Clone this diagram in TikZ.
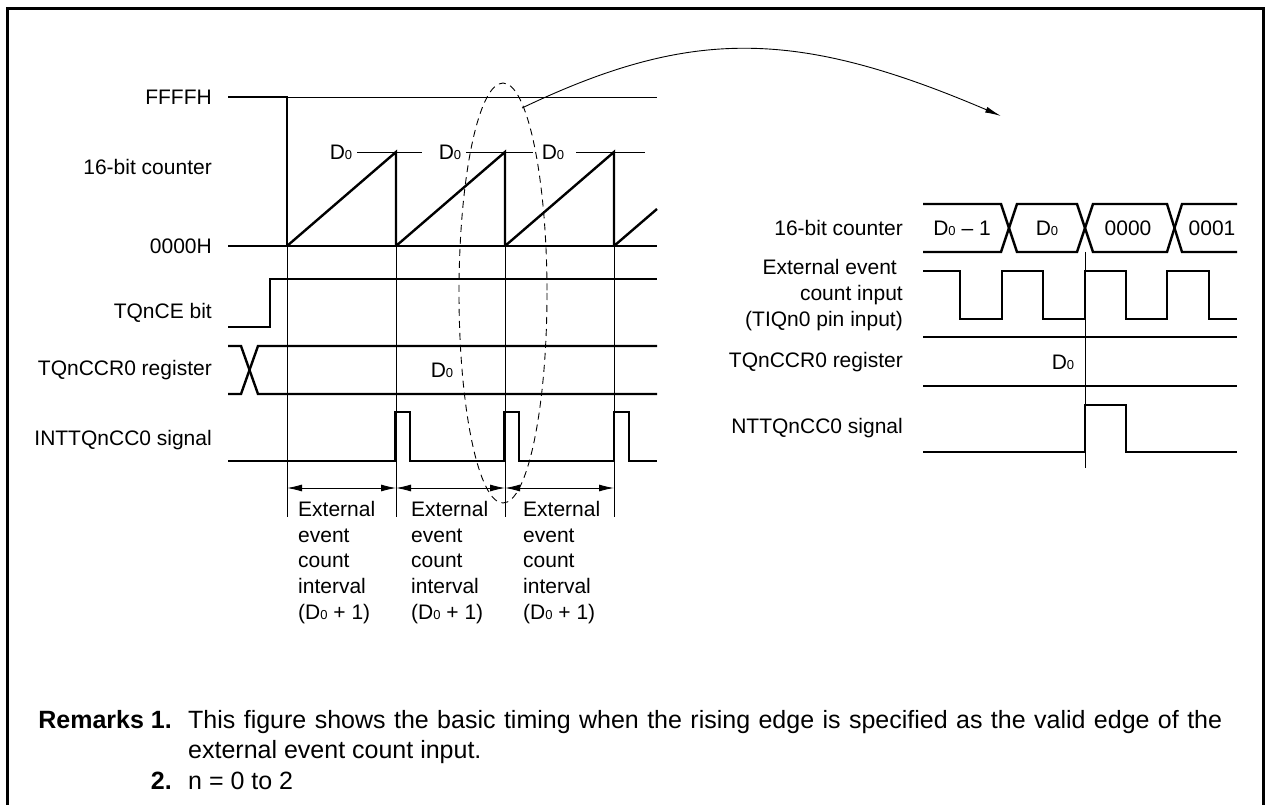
\documentclass[tikz,border=0pt]{standalone}
\usepackage{fontspec}
\setmainfont{Liberation Sans}
\usetikzlibrary{arrows.meta}
\newcommand{\Dz}{D{\fontsize{13}{13}\selectfont 0}}
\begin{document}
\begin{tikzpicture}[x=1pt,y=-1pt,
  sig/.style={line width=2.4pt},
  thinline/.style={line width=0.9pt},
  lbl/.style={anchor=east, inner sep=0, font=\fontsize{21}{25.75}\selectfont},
  txt/.style={inner sep=0, font=\fontsize{21}{25.75}\selectfont},
  rem/.style={inner sep=0, anchor=base west, font=\fontsize{25}{30}\selectfont},
  dimarrow/.style={thinline, {Latex[length=15pt,width=7pt]}-{Latex[length=15pt,width=7pt]}},
]
\useasboundingbox (0,0) rectangle (1267,805);
\draw[line width=3pt] (7.5,805) -- (7.5,8.5) -- (1263.5,8.5) -- (1263.5,805);

% ---------- left diagram labels
\node[lbl] (lF) at (212,97) {FFFFH};
\node[lbl] (lC) at (212,167) {16-bit counter};
\node[lbl] (l0) at (212,246) {0000H};
\node[lbl] (lCE) at (212,313) {TQnCE bit};
\node[lbl] (lCCR) at (212,370) {TQnCCR0 register};
\node[lbl] (lINT) at (212,440) {INTTQnCC0 signal};

% counter
\draw[sig] (228,97) -- (287,97) -- (287,246);
\draw[thinline] (287,97) -- (657,97);
\draw[sig] (228,246) -- (657,246);
\draw[sig] (287,246) -- (396,152) -- (396,246)
           (396,246) -- (505,152) -- (505,246)
           (505,246) -- (614,152) -- (614,246)
           (614,246) -- (657,209);
\node[txt] (d1) at (341,152) {\Dz};
\node[txt] (d2) at (450,152) {\Dz};
\node[txt] (d3) at (553,152) {\Dz};
\draw[thinline] (357,152) -- (422,152) (466,152) -- (533,152) (576,152) -- (645,152);

% guide verticals
\foreach \x in {287,396,505,614} \draw[thinline] (\x,246) -- (\x,517);

% TQnCE
\draw[sig] (228,327) -- (270,327) -- (270,279) -- (657,279);
% TQnCCR0
\draw[sig] (228,346) -- (241,346) -- (258,394) -- (657,394);
\draw[sig] (228,394) -- (241,394) -- (258,346) -- (657,346);
\node[txt] (dccr) at (442,370) {\Dz};
% INTTQnCC0
\draw[sig] (228,461) -- (395,461) -- (395,412) -- (410,412) -- (410,461)
   -- (504,461) -- (504,412) -- (519,412) -- (519,461)
   -- (614,461) -- (614,412) -- (629,412) -- (629,461) -- (657,461);

% interval arrows
\coordinate (a0) at (287,488);
\coordinate (a1) at (396,488);
\coordinate (a2) at (505,488);
\coordinate (a3) at (614,488);
\draw[dimarrow] (a0) -- (a1);
\draw[dimarrow] (a1) -- (a2);
\draw[dimarrow] (a2) -- (a3);
\foreach \x/\n in {298/i1,411/i2,523/i3}
  \node[txt, anchor=north west, align=left] (\n) at (\x,501)
    {External\\event\\count\\interval\\(\Dz{} + 1)};

% dashed ellipse and curved arrow
\draw[thinline, dash pattern=on 7pt off 5pt] (503,293) ellipse [x radius=44, y radius=210];
\coordinate (cs) at (522,108);
\coordinate (ce) at (1001,116);
\draw[thinline, -{Latex[length=16pt,width=6pt]}] (cs) .. controls (690,28) and (795,28) .. (ce);

% ---------- right diagram
\node[lbl] (rC) at (903,228) {16-bit counter};
\node[lbl, align=right] (rE) at (903,295) {External event\hspace*{6pt}\\count input\\(TIQn0 pin input)};
\node[lbl] (rCCR) at (903,362) {TQnCCR0 register};
\node[lbl] (rINT) at (903,428) {NTTQnCC0 signal};

\draw[sig] (923,204) -- (1001,204) -- (1017,252) -- (1077,252) -- (1093,204) -- (1167,204) -- (1182,252) -- (1237,252);
\draw[sig] (923,252) -- (1001,252) -- (1017,204) -- (1077,204) -- (1093,252) -- (1167,252) -- (1182,204) -- (1237,204);
\node[txt] (b1) at (962,228) {\Dz{} \textendash{} 1};
\node[txt] (b2) at (1047,228) {\Dz};
\node[txt] (b3) at (1128,228) {0000};
\node[txt] (b4) at (1212,228) {0001};

\draw[sig] (923,271) -- (960,271) -- (960,319) -- (1002,319) -- (1002,271) -- (1043,271) -- (1043,319)
  -- (1085,319) -- (1085,271) -- (1126,271) -- (1126,319) -- (1167,319) -- (1167,271) -- (1209,271)
  -- (1209,319) -- (1237,319);
\draw[sig] (923,337) -- (1237,337) (923,386) -- (1237,386);
\node[txt] (rd) at (1063,362) {\Dz};
\draw[sig] (923,452) -- (1085,452) -- (1085,405) -- (1126,405) -- (1126,452) -- (1237,452);
\draw[thinline] (1085,252) -- (1085,468);

% ---------- remarks
\node[rem, anchor=base east, font=\fontsize{25}{30}\selectfont\bfseries] (r1) at (172,728) {Remarks 1.};
\node[rem] (t1) at (188,728) {\makebox[1034pt][s]{This figure shows the basic timing when the rising edge is specified as the valid edge of the}};
\node[rem] (t2) at (188,758) {external event count input.};
\node[rem, anchor=base east, font=\fontsize{25}{30}\selectfont\bfseries] (r2) at (172,789) {2.};
\node[rem] (t3) at (188,789) {n = 0 to 2};
\end{tikzpicture}
\end{document}
